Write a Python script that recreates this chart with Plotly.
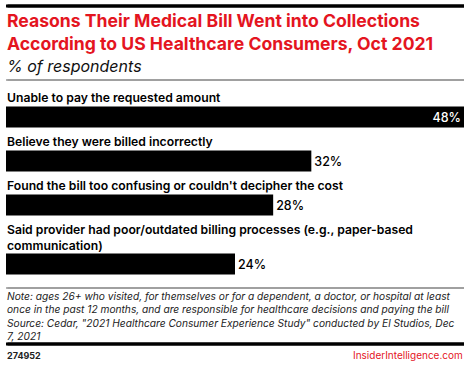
import plotly.graph_objects as go

categories = [
    "Unable to pay the requested amount",
    "Believe they were billed incorrectly",
    "Found the bill too confusing or couldn't decipher the cost",
    "Said provider had poor/outdated billing processes (e.g., paper-based<br>communication)",
]
values = [48, 32, 28, 24]
value_labels = ["48%", "32%", "28%", "24%"]

title = "Reasons Their Medical Bill Went into Collections<br>According to US Healthcare Consumers, Oct 2021"
subtitle = "% of respondents"
note = ("Note: ages 26+ who visited, for themselves or for a dependent, a doctor, or hospital at least<br>"
        "once in the past 12 months, and are responsible for healthcare decisions and paying the bill<br>"
        "Source: Cedar, \"2021 Healthcare Consumer Experience Study\" conducted by El Studios, Dec<br>"
        "7, 2021")
chart_id = "274952"
brand = "InsiderIntelligence.com"

W, H = 470, 365
RED = "#e4151f"
FONT = "Inter"
CLEAR = "rgba(0,0,0,0)"

# layout positions (y axis runs in pixel units, top = 0)
label_line = 15.0
first_label = 97.5
label_to_bar = 19.5
bar_to_label = 24.5
bar_w = 21

label_y, bar_y = [], []
y = first_label
for c in categories:
    n = c.count("<br>") + 1
    label_y.append(y + (n - 1) * label_line / 2)
    b = y + (n - 1) * label_line + label_to_bar
    bar_y.append(b)
    y = b + bar_to_label

maxv = max(values)
fig = go.Figure()
fig.add_trace(go.Bar(
    x=values, y=bar_y, orientation="h", width=bar_w,
    marker=dict(color="#000000", line=dict(width=0)),
    text=value_labels,
    textposition=["inside" if v == maxv else "outside" for v in values],
    insidetextanchor="end",
    insidetextfont=dict(color="white", size=12.5, family=FONT, weight=500),
    outsidetextfont=dict(color="black", size=12.5, family=FONT, weight=500),
    cliponaxis=False,
    hoverinfo="skip",
))


def text_ann(x, yv, text, font, xanchor="left"):
    return dict(x=x, xref="paper", y=yv, yref="y", text=text, showarrow=False,
                xanchor=xanchor, yanchor="middle", align=xanchor,
                bgcolor=CLEAR, bordercolor=CLEAR, borderpad=0, font=font)


ann = []
for c, ly in zip(categories, label_y):
    ann.append(text_ann(0, ly, c, dict(family=FONT, size=12.2, color="black", weight=600)))
ann.append(text_ann(0, 32, title, dict(family=FONT, size=17.6, color=RED, weight=700)))
ann.append(text_ann(0, 66, subtitle, dict(family=FONT, size=16, color="#111", style="italic")))
ann.append(text_ann(0, 316, note, dict(family=FONT, size=10.2, color="#222", style="italic")))
ann.append(text_ann(0, 355, chart_id, dict(family=FONT, size=9, color="#222", weight=700)))
ann.append(text_ann(1, 355, brand, dict(family=FONT, size=10, color=RED), xanchor="right"))

# horizontal rules: arrow-less annotation lines spanning the plot width (plus shapes as backup)
rules = [(6, "black", 3), (80, "#9a9a9a", 1.5), (288, "#9a9a9a", 1.5), (344, "black", 3)]
shapes = []
for ry, col, wd in rules:
    ann.append(dict(x=maxv, xref="x", y=ry, yref="y", ax=0, axref="x", ay=ry, ayref="y",
                    text="", showarrow=True, arrowhead=0, arrowwidth=wd, arrowcolor=col,
                    standoff=0, startstandoff=0))
    shapes.append(dict(type="line", xref="paper", yref="y", x0=0, x1=1, y0=ry, y1=ry,
                       line=dict(color=col, width=wd), layer="above"))

fig.update_layout(
    width=W, height=H,
    margin=dict(l=6, r=6, t=0, b=0, pad=0),
    paper_bgcolor="white", plot_bgcolor="white",
    showlegend=False,
    xaxis=dict(range=[0, maxv], visible=False, fixedrange=True),
    yaxis=dict(range=[H, 0], visible=False, fixedrange=True),
    annotations=ann, shapes=shapes,
    uniformtext=dict(minsize=12.5, mode="show"),
)

fig.write_html("out.html", config={"displayModeBar": False},
               post_script="document.body.style.margin='0';document.body.style.overflow='hidden';")
